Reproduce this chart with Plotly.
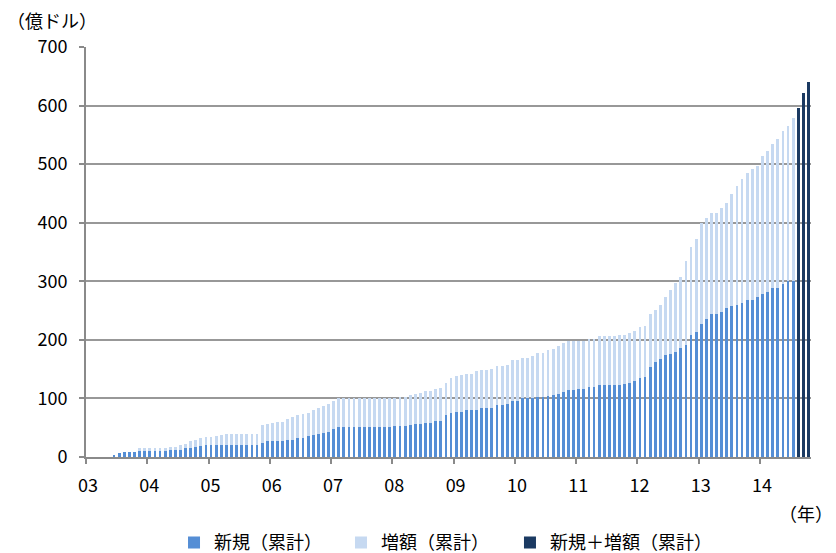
import plotly.graph_objects as go

# ---- data (億ドル, cumulative, monthly Jan 2003 - Oct 2014) ----
years = list(range(2003, 2015))
months = [f"{y}-{m:02d}" for y in years for m in range(1, 13)][:142]
year_labels = ["03", "04", "05", "06", "07", "08", "09", "10", "11", "12", "13", "14"]

new_cum = [
    0, 0, 0, 0, 0, 4.0, 7.4, 8.0, 8.0, 9.1, 9.7, 9.7,                       # 2003
    9.7, 9.7, 9.7, 9.7, 11.4, 11.4, 12.5, 14.8, 15.9, 17.6, 19.3, 19.9,     # 2004
    20.5, 20.5, 20.5, 20.5, 20.5, 20.5, 20.5, 20.5, 20.5, 20.5, 24.5, 26.5, # 2005
    27.0, 27.4, 27.0, 29.7, 29.7, 32.0, 33.1, 35.4, 38.3, 40.0, 41.1, 43.0, # 2006
    47.2, 51.4, 51.4, 51.4, 51.4, 51.4, 51.4, 51.4, 51.4, 51.4, 51.4, 51.4, # 2007
    53.1, 53.1, 53.7, 55.4, 56.0, 57.1, 58.9, 58.9, 62.3, 62.3, 71.4, 74.3, # 2008
    76.0, 76.0, 79.4, 79.4, 81.1, 82.9, 82.9, 84.0, 88.0, 88.0, 89.7, 95.4, # 2009
    95.4, 100.6, 100.6, 100.6, 102.9, 102.9, 104.0, 105.1, 106.9, 110.9, 113.7, 113.7,  # 2010
    115.4, 115.4, 120.0, 120.0, 122.3, 122.9, 122.9, 122.9, 123.0, 124.5, 127.0, 130.0, # 2011
    134.2, 135.9, 154.1, 161.5, 167.7, 174.0, 176.2, 179.6, 186.5, 191.0, 208.6, 212.6, # 2012
    226.3, 235.4, 244.5, 244.5, 247.9, 254.1, 257.0, 259.8, 262.1, 268.3, 268.3, 272.9, # 2013
    279.1, 281.4, 288.2, 288.2, 296.2, 300.2, 300.7, None, None, None,                 # 2014
]

inc_cum = [
    0, 0, 0, 0, 0, 0, 0, 0, 0, 0, 6.2, 6.2,                                 # 2003
    6.2, 6.2, 6.2, 6.2, 6.2, 6.2, 7.4, 6.8, 11.9, 11.9, 13.7, 14.2,         # 2004
    14.2, 15.3, 17.0, 19.3, 19.3, 19.3, 19.3, 19.3, 19.3, 19.3, 30.5, 29.5, # 2005
    31.0, 32.6, 32.5, 36.0, 38.9, 38.9, 39.5, 40.0, 41.7, 42.9, 45.2, 47.0, # 2006
    48.2, 48.6, 48.6, 48.6, 48.6, 48.6, 48.6, 48.6, 48.6, 48.6, 48.6, 48.6, # 2007
    48.0, 49.2, 49.2, 49.7, 50.9, 52.6, 53.1, 53.1, 53.1, 54.7, 55.5, 60.0, # 2008
    61.7, 63.4, 62.9, 62.9, 66.3, 66.2, 66.2, 66.3, 68.0, 68.0, 68.0, 70.3, # 2009
    70.3, 68.5, 68.5, 71.4, 74.2, 74.2, 78.9, 78.9, 82.8, 83.4, 84.0, 84.0, # 2010
    83.5, 83.5, 82.3, 82.3, 85.1, 84.5, 84.5, 84.5, 85.0, 84.5, 84.0, 85.5, # 2011
    87.5, 87.5, 90.4, 89.8, 91.0, 98.9, 108.1, 118.3, 120.5, 143.9, 150.1, 160.3,        # 2012
    172.8, 172.2, 171.6, 172.8, 176.8, 179.1, 191.6, 203.5, 212.0, 216.1, 223.5, 223.4, # 2013
    234.3, 241.6, 245.6, 254.7, 260.4, 264.3, 277.5, None, None, None,                 # 2014
]

total_months = ["2014-08", "2014-09", "2014-10"]
total_cum = [595.2, 621.4, 640.1]

# ---- figure ----
FONT = "Noto Sans CJK JP, Noto Sans, sans-serif"
C_NEW = "#558ED5"
C_INC = "#C6D9F1"
C_TOT = "#1B3A62"
GRID = "#989898"
AXIS = "#8A8A8A"

x_idx = list(range(len(months)))
tot_idx = [months.index(m) for m in total_months]

fig = go.Figure()
fig.add_trace(go.Bar(x=x_idx, y=new_cum, name="新規（累計）", marker_color=C_NEW,
                     marker_line_width=0, customdata=months, legend="legend"))
fig.add_trace(go.Bar(x=x_idx, y=inc_cum, name="増額（累計）", marker_color=C_INC,
                     marker_line_width=0, customdata=months, legend="legend2"))
fig.add_trace(go.Bar(x=tot_idx, y=total_cum, name="新規＋増額（累計）", marker_color=C_TOT,
                     marker_line_width=0, customdata=total_months, legend="legend3"))

def leg(xpos):
    return dict(orientation="h", x=xpos, xanchor="left", y=-0.209, yanchor="middle",
                font=dict(size=18), itemwidth=30, bgcolor="rgba(0,0,0,0)")

n = len(months)
fig.update_layout(
    width=836, height=553,
    margin=dict(l=86, r=25, t=47, b=96, pad=0, autoexpand=False),
    barmode="stack", bargap=0.45,
    plot_bgcolor="white", paper_bgcolor="white",
    font=dict(family=FONT, size=18, color="#000000"),
    showlegend=True,
    legend=leg(0.1214),
    legend2=leg(0.3517),
    legend3=leg(0.5848),
    xaxis=dict(
        range=[-0.5, n - 0.5], showgrid=False, zeroline=False,
        showline=True, linecolor=AXIS, linewidth=2,
        tickmode="array",
        tickvals=[12 * k - 0.5 for k in range(len(year_labels))],
        ticktext=year_labels, ticklabelshift=2,
        ticks="outside", ticklen=5, tickwidth=1.5, tickcolor=AXIS,
        ticklabelstandoff=6,
        tickfont=dict(size=18, color="#000000"),
    ),
    yaxis=dict(
        range=[0, 700], dtick=100, tick0=0,
        showgrid=True, gridcolor=GRID, gridwidth=1.5,
        zeroline=False, showline=True, linecolor=AXIS, linewidth=2,
        ticks="outside", ticklen=5, tickwidth=1.5, tickcolor=AXIS,
        ticklabelstandoff=8,
        tickfont=dict(size=18, color="#000000"),
    ),
    annotations=[
        dict(text="（億ドル）", xref="paper", yref="paper", x=-0.112, y=1.066,
             xanchor="left", yanchor="middle", showarrow=False, font=dict(size=18)),
        dict(text="（年）", xref="paper", yref="paper", x=1.0331, y=-0.136,
             xanchor="right", yanchor="middle", showarrow=False, font=dict(size=18)),
    ],
)

fig.write_html("out.html")
